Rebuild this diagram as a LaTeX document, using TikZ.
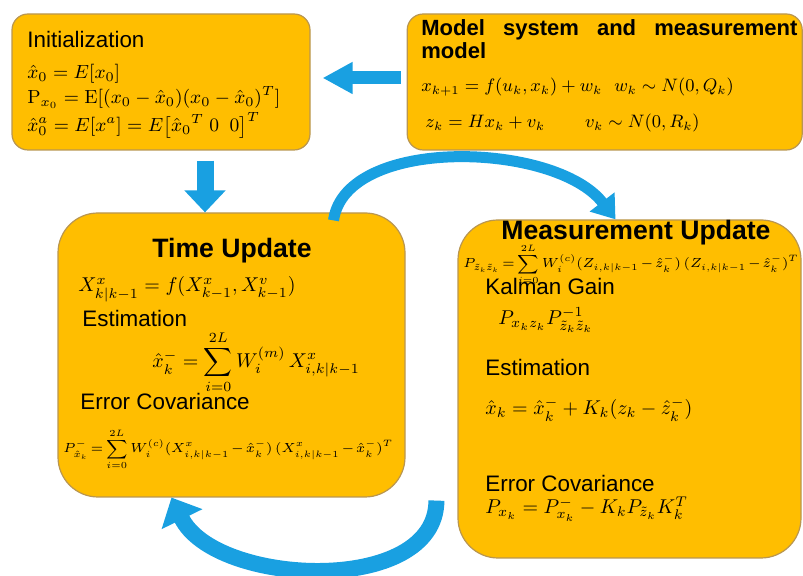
\RequirePackage{fix-cm}
\documentclass[tikz,border=0pt]{standalone}
\usepackage{amsmath}
\usepackage[no-math]{fontspec}
\setmainfont{Liberation Sans}
\usetikzlibrary{arrows.meta,positioning}
\definecolor{boxfill}{RGB}{255,190,0}
\definecolor{boxline}{RGB}{185,150,80}
\definecolor{flowblue}{RGB}{25,160,225}
\newcommand{\tightsp}{\medmuskip=2mu\relax\thickmuskip=3mu\relax}
\tikzset{box/.style={draw=boxline,fill=boxfill,line width=0.6pt,inner sep=0pt},lbl/.style={anchor=base west,inner sep=0pt,font=\fontsize{11.2}{13}\selectfont},ttl/.style={anchor=base,inner sep=0pt,font=\fontsize{13.3}{16}\selectfont\bfseries},eq/.style={anchor=base west,inner sep=0pt,font=\fontsize{10}{12}\selectfont},smalleq/.style={anchor=base west,inner sep=0pt,font=\fontsize{6.6}{8}\selectfont},blockarrow/.style={draw=flowblue},bendarrow/.style={draw=flowblue,line width=5.5pt,-{Triangle[length=11pt,width=15pt]}}}

\begin{document}
\begin{tikzpicture}[x=0.5pt,y=0.5pt]
\useasboundingbox (0,0) rectangle (803,576);
% boxes
\node[box,rounded corners=8pt,minimum width=149pt,minimum height=68pt] (init) at (161,494) {};
\node[box,rounded corners=8pt,minimum width=197.5pt,minimum height=68pt,right=48pt of init] (model) {};
\node[box,rounded corners=20pt,minimum width=173.5pt,minimum height=142pt] (timeupd) at (231.5,221) {};
\node[box,rounded corners=20pt,minimum width=171.5pt,minimum height=169pt] (measupd) at (629.5,187) {};
% initialization
\node[lbl] (initlbl) at (27,528) {Initialization};
\node[eq,font=\fontsize{9.5}{12}\selectfont] (initeq1) at (27,497) {$\hat{x}_0 = E[x_0]$};
\node[eq,font=\fontsize{9.5}{12}\selectfont] (initeq2) at (27,472) {$\mathrm{P}_{x_0} = \mathrm{E}[(x_0-\hat{x}_0)(x_0-\hat{x}_0)^T]$};
\node[eq,font=\fontsize{9.5}{12}\selectfont] (initeq3) at (27,444) {$\hat{x}_0^a = E[x^a] = E\big[\hat{x}_0{}^T\ 0\ \ 0\big]^T$};
% model
\node[lbl,font=\fontsize{11}{13}\selectfont\bfseries] (modelttl1) at (421,540) {\makebox[188pt][s]{Model system and measurement}};
\node[lbl,font=\fontsize{11}{13}\selectfont\bfseries] (modelttl2) at (421,517) {model};
\node[eq,font=\fontsize{9}{11}\selectfont] (modeleq1) at (421,484) {$x_{k+1} = f(u_k,x_k) + w_k\hspace{6pt} w_k \sim N(0,Q_k)$};
\node[eq,font=\fontsize{9}{11}\selectfont] (modeleq2) at (425,448) {$z_k = Hx_k + v_k\hspace{20pt} v_k \sim N(0,R_k)$};
% time update
\node[ttl] (tuttl) at (232,318) {Time Update};
\node[eq] (tueq1) at (78,284) {$X^x_{k|k-1} = f(X^x_{k-1},X^v_{k-1})$};
\node[lbl] (tuest) at (82,249) {Estimation};
\node[eq] (tueq2) at (152,208) {$\displaystyle \hat{x}_k^- = \sum_{i=0}^{2L} W_i^{(m)}\, X^x_{i,k|k-1}$};
\node[lbl] (tuerr) at (80,166) {Error Covariance};
\node[smalleq] (tueq3) at (63,123) {$\tightsp\displaystyle P^-_{\hat{x}_k} = \sum_{i=0}^{2L} W_i^{(c)}(X^x_{i,k|k-1}-\hat{x}_k^-)\,(X^x_{i,k|k-1}-\hat{x}_k^-)^T$};
% measurement update
\node[ttl] (muttl) at (636,336) {Measurement Update};
\node[smalleq] (mueq1) at (463,308) {$\tightsp\displaystyle P_{\tilde{z}_k\tilde{z}_k} = \sum_{i=0}^{2L} W_i^{(c)}(Z_{i,k|k-1}-\hat{z}_k^-)\,(Z_{i,k|k-1}-\hat{z}_k^-)^T$};
\node[lbl] (mugain) at (485,281) {Kalman Gain};
\node[eq] (mueq2) at (498,251) {$P_{x_k z_k}P^{-1}_{\tilde{z}_k\tilde{z}_k}$};
\node[lbl] (muest) at (485,200) {Estimation};
\node[eq] (mueq3) at (485,161) {$\hat{x}_k = \hat{x}_k^- + K_k(z_k - \hat{z}_k^-)$};
\node[lbl] (muerr) at (485,84) {Error Covariance};
\node[eq] (mueq4) at (485,62) {$P_{x_k} = P^-_{x_k} - K_kP_{\tilde{z}_k}K_k^T$};
% arrows
\draw[blockarrow,line width=6.5pt,-{Triangle[length=15pt,width=15pt]},shorten <=3pt,shorten >=6pt] ([yshift=2pt]model.west) -- ([yshift=2pt]init.east);
\draw[blockarrow,line width=8.5pt,-{Triangle[length=11pt,width=20pt]},shorten <=5pt] ([xshift=22pt]init.south) -- ([xshift=22pt]init.south |- timeupd.north);
\draw[bendarrow] ([xshift=51pt,yshift=-4pt]timeupd.north) .. controls +(12,85) and +(-60,78) .. ([xshift=-7pt]measupd.north);
\draw[bendarrow,line width=8pt,-{Triangle[length=12pt,width=22pt]}] ([xshift=-10.5pt,yshift=29pt]measupd.south west) .. controls +(0,-96) and +(43.5,-89) .. ([xshift=-30pt]timeupd.south);
\end{tikzpicture}
\end{document}
